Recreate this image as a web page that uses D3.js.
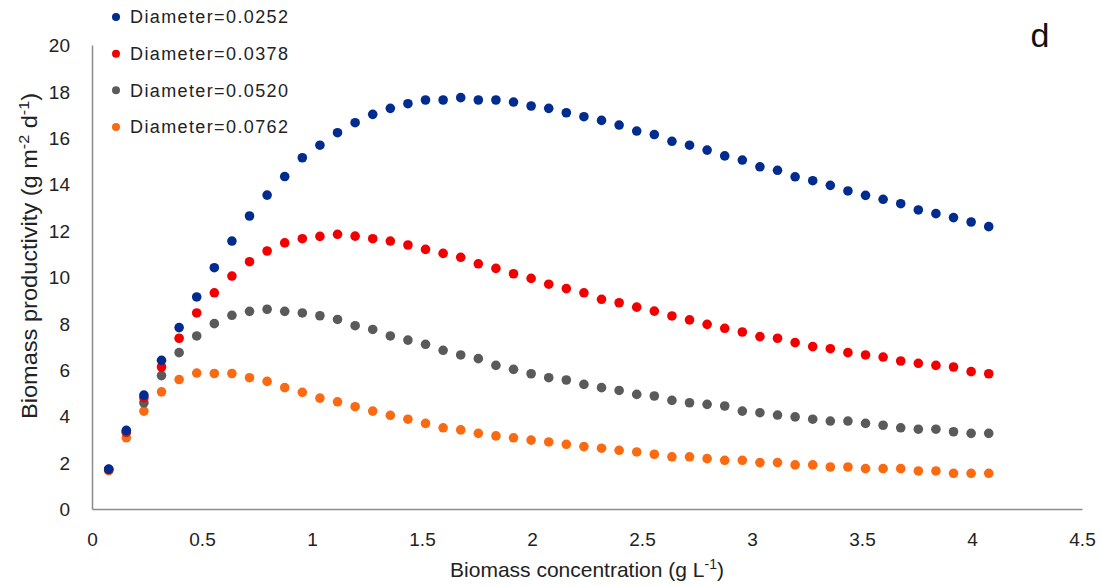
<!DOCTYPE html>
<html>
<head>
<meta charset="utf-8">
<script src="https://cdn.jsdelivr.net/npm/d3@7"></script>
<style>
  body { margin: 0; background: #fff; }
  svg { display: block; font-family: "Liberation Sans", Arial, sans-serif; }
</style>
</head>
<body>
<svg id="chart" width="1101" height="586"></svg>
<script>
// biomass concentration (g/L) at each sample
const concentration = [0.076, 0.156, 0.236, 0.316, 0.396, 0.476, 0.556, 0.636, 0.716, 0.796,
  0.876, 0.956, 1.036, 1.116, 1.196, 1.276, 1.356, 1.436, 1.516, 1.596,
  1.676, 1.756, 1.836, 1.916, 1.996, 2.076, 2.156, 2.236, 2.316, 2.396,
  2.476, 2.556, 2.636, 2.716, 2.796, 2.876, 2.956, 3.036, 3.116, 3.196,
  3.276, 3.356, 3.436, 3.516, 3.596, 3.676, 3.756, 3.836, 3.916, 3.996, 4.076];

const d0252 = [1.72, 3.39, 4.91, 6.41, 7.82, 9.14, 10.40, 11.55, 12.63, 13.53,
  14.33, 15.14, 15.68, 16.22, 16.65, 17.01, 17.27, 17.47, 17.63, 17.63,
  17.73, 17.63, 17.63, 17.54, 17.37, 17.27, 17.08, 16.91, 16.75, 16.55,
  16.29, 16.14, 15.85, 15.68, 15.47, 15.22, 15.04, 14.75, 14.60, 14.32,
  14.15, 13.95, 13.71, 13.52, 13.35, 13.16, 12.89, 12.73, 12.56, 12.37, 12.17];

const d0378 = [1.70, 3.32, 4.80, 6.12, 7.36, 8.45, 9.32, 10.04, 10.66, 11.12,
  11.47, 11.65, 11.75, 11.84, 11.76, 11.65, 11.55, 11.38, 11.19, 11.02,
  10.85, 10.57, 10.37, 10.14, 9.94, 9.69, 9.50, 9.32, 9.04, 8.89,
  8.70, 8.53, 8.32, 8.15, 7.96, 7.79, 7.63, 7.43, 7.36, 7.17,
  7.00, 6.91, 6.74, 6.64, 6.55, 6.38, 6.28, 6.19, 6.12, 5.92, 5.83];

const d0520 = [1.70, 3.30, 4.58, 5.75, 6.74, 7.46, 7.99, 8.35, 8.52, 8.61,
  8.52, 8.45, 8.33, 8.17, 7.90, 7.74, 7.46, 7.28, 7.10, 6.84,
  6.64, 6.48, 6.19, 6.02, 5.83, 5.66, 5.56, 5.37, 5.23, 5.11,
  4.94, 4.87, 4.68, 4.58, 4.51, 4.44, 4.22, 4.15, 4.05, 3.97,
  3.87, 3.79, 3.79, 3.69, 3.61, 3.50, 3.44, 3.44, 3.33, 3.26, 3.26];

const d0762 = [1.65, 3.07, 4.22, 5.05, 5.58, 5.86, 5.84, 5.84, 5.66, 5.50,
  5.23, 5.03, 4.78, 4.62, 4.41, 4.22, 4.04, 3.87, 3.69, 3.50,
  3.41, 3.26, 3.15, 3.07, 2.97, 2.89, 2.79, 2.69, 2.62, 2.53,
  2.46, 2.36, 2.25, 2.25, 2.17, 2.10, 2.10, 2.00, 2.00, 1.90,
  1.90, 1.81, 1.81, 1.74, 1.74, 1.74, 1.64, 1.64, 1.54, 1.54, 1.54];

const seriesNames = ["Diameter=0.0252", "Diameter=0.0378", "Diameter=0.0520", "Diameter=0.0762"];
const seriesValues = [d0252, d0378, d0520, d0762];
const seriesColors = ["#002b8f", "#f20000", "#5a5a5a", "#fb6a10"];

const xTicks = [0, 0.5, 1, 1.5, 2, 2.5, 3, 3.5, 4, 4.5];
const yTicks = [0, 2, 4, 6, 8, 10, 12, 14, 16, 18, 20];

const svg = d3.select("#chart");

const x = d3.scaleLinear().domain([0, 4.5]).range([92, 1082]);
const y = d3.scaleLinear().domain([0, 20]).range([509, 45]);

// axes (lines only, no tick marks)
const xAxis = svg.append("g")
    .attr("transform", `translate(0, ${y(0)})`)
    .call(d3.axisBottom(x).tickValues(xTicks).tickSize(0).tickPadding(24)
        .tickFormat(d => String(d)));
const yAxis = svg.append("g")
    .attr("transform", `translate(${x(0)}, 0)`)
    .call(d3.axisLeft(y).tickValues(yTicks).tickSize(0).tickPadding(22));

[xAxis, yAxis].forEach(g => {
    g.select(".domain").attr("stroke", "#8c8c8c").attr("stroke-width", 1.5);
    g.selectAll("text")
        .attr("font-family", "Liberation Sans, Arial, sans-serif")
        .attr("font-size", 19)
        .attr("fill", "#222");
});
yAxis.selectAll("text").attr("dy", "0.35em");

// point series, drawn last series first so blue sits on top
seriesValues.slice().reverse().forEach((vals, ri) => {
    const i = seriesValues.length - 1 - ri;
    svg.append("g")
        .selectAll("circle")
        .data(vals)
        .enter()
        .append("circle")
        .attr("cx", (d, j) => x(concentration[j]))
        .attr("cy", d => y(d))
        .attr("r", 4.8)
        .attr("fill", seriesColors[i]);
});

// legend
const legendY = d3.scalePoint().domain(seriesNames).range([17, 127]);
const legend = svg.append("g");
legend.selectAll("circle")
    .data(seriesNames)
    .enter()
    .append("circle")
    .attr("cx", 116)
    .attr("cy", d => legendY(d))
    .attr("r", 4)
    .attr("fill", (d, i) => seriesColors[i]);
legend.selectAll("text")
    .data(seriesNames)
    .enter()
    .append("text")
    .attr("x", 130)
    .attr("y", d => legendY(d))
    .attr("dy", "0.35em")
    .attr("font-size", 18)
    .attr("fill", "#222")
    .attr("textLength", 158)
    .attr("lengthAdjust", "spacing")
    .text(d => d);

// axis titles
const xTitle = svg.append("text")
    .attr("x", 587)
    .attr("y", 577)
    .attr("text-anchor", "middle")
    .attr("font-family", "Liberation Sans Narrow, Liberation Sans, Arial, sans-serif")
    .attr("font-size", 21)
    .attr("fill", "#222");
xTitle.append("tspan").text("Biomass concentration (g L");
xTitle.append("tspan").attr("font-size", 14).attr("dy", -8).text("-1");
xTitle.append("tspan").attr("dy", 8).text(")");

const yTitle = svg.append("text")
    .attr("transform", "translate(37, 256) rotate(-90)")
    .attr("text-anchor", "middle")
    .attr("font-family", "Liberation Sans Narrow, Liberation Sans, Arial, sans-serif")
    .attr("font-size", 22)
    .attr("fill", "#222")
    .attr("textLength", 326)
    .attr("lengthAdjust", "spacingAndGlyphs");
yTitle.append("tspan").text("Biomass productivity (g m");
yTitle.append("tspan").attr("font-size", 15).attr("dy", -8).text("-2");
yTitle.append("tspan").attr("dy", 8).text(" d");
yTitle.append("tspan").attr("font-size", 15).attr("dy", -8).text("-1");
yTitle.append("tspan").attr("dy", 8).text(")");

// panel letter
svg.append("text")
    .attr("x", 1040)
    .attr("y", 47)
    .attr("text-anchor", "middle")
    .attr("font-size", 34)
    .attr("fill", "#111")
    .text("d");
</script>
</body>
</html>
